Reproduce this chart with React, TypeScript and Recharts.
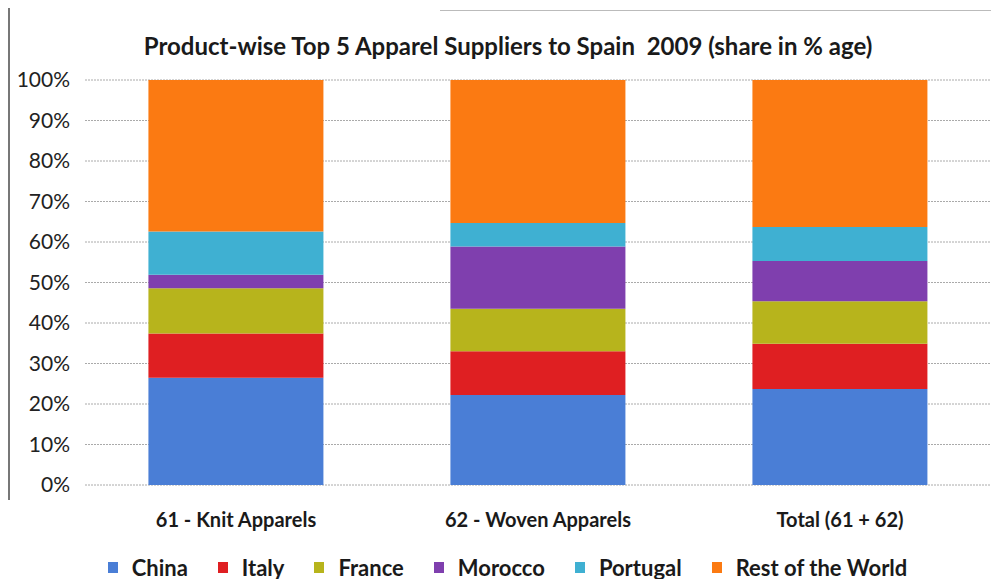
import React from 'react';
import { BarChart, Bar, XAxis, YAxis, CartesianGrid, Legend } from 'recharts';

const categories = ['61 - Knit Apparels', '62 - Woven Apparels', 'Total (61 + 62)'];
const china = [26.5, 22.2, 23.7];
const italy = [10.9, 10.8, 11.2];
const france = [11.2, 10.5, 10.5];
const morocco = [3.3, 15.4, 9.9];
const portugal = [10.7, 5.8, 8.4];
const restOfWorld = [37.4, 35.3, 36.3];
const yTicks = [0, 10, 20, 30, 40, 50, 60, 70, 80, 90, 100];

const series = [
  { key: 'China', values: china, color: '#4a7ed6' },
  { key: 'Italy', values: italy, color: '#df1f22' },
  { key: 'France', values: france, color: '#b7b41c' },
  { key: 'Morocco', values: morocco, color: '#7f3fae' },
  { key: 'Portugal', values: portugal, color: '#3fb0d2' },
  { key: 'Rest of the World', values: restOfWorld, color: '#fb7a12' },
];

const data = categories.map((name, i) => {
  const row: Record<string, string | number> = { name };
  series.forEach(s => { row[s.key] = s.values[i]; });
  return row;
});

const FONT = 'Lato, "Open Sans", sans-serif';

const CategoryTick = (props: any) => {
  const { x, y, payload } = props;
  return (
    <text x={x} y={y + 34} textAnchor="middle" fill="#1a1a1a" fontSize={20} fontWeight={700} fontFamily={FONT}>
      {payload.value}
    </text>
  );
};

const LegendRow = () => (
  <div style={{ height: 40, display: 'flex', justifyContent: 'center', alignItems: 'center', fontFamily: FONT, fontSize: 22, fontWeight: 700, color: '#1a1a1a', paddingLeft: 24 }}>
    {series.map(s => (
      <span key={s.key} style={{ display: 'flex', alignItems: 'center', margin: '0 15px' }}>
        <span style={{ width: 10, height: 11, background: s.color, marginRight: 14, display: 'inline-block' }} />
        {s.key}
      </span>
    ))}
  </div>
);

export default function App() {
  return (
    <div style={{ margin: -8, width: 999, height: 587, position: 'relative', background: '#fff', overflow: 'hidden' }}>
      <div style={{ position: 'absolute', left: 8, top: 0, width: 2, height: 500, background: '#777' }} />
      <div style={{ position: 'absolute', left: 440, top: 10, width: 559, height: 1, background: '#bbb' }} />
      <div style={{ position: 'absolute', top: 31, left: 0, width: 1016, textAlign: 'center', fontFamily: FONT, fontSize: 24, fontWeight: 700, color: '#1a1a1a' }}>
        Product-wise Top 5 Apparel Suppliers to Spain&nbsp;&nbsp;2009 (share in % age)
      </div>
      <BarChart width={999} height={587} data={data} barCategoryGap="21%" margin={{ top: 80, right: 8, left: 0, bottom: 0 }}>
        <CartesianGrid vertical={false} stroke="#aaa" strokeDasharray="2 1" />
        <XAxis dataKey="name" axisLine={false} tickLine={false} height={62} tick={<CategoryTick />} interval={0} />
        <YAxis
          width={85}
          domain={[0, 100]}
          ticks={yTicks}
          tickFormatter={(v: number) => `${v}%`}
          axisLine={false}
          tickLine={false}
          tickMargin={9}
          tick={{ fontSize: 21, fill: '#222', fontFamily: FONT }}
        />
        <Legend verticalAlign="bottom" height={40} content={<LegendRow />} />
        {series.map(s => (
          <Bar key={s.key} dataKey={s.key} stackId="a" fill={s.color} isAnimationActive={false} />
        ))}
      </BarChart>
    </div>
  );
}
